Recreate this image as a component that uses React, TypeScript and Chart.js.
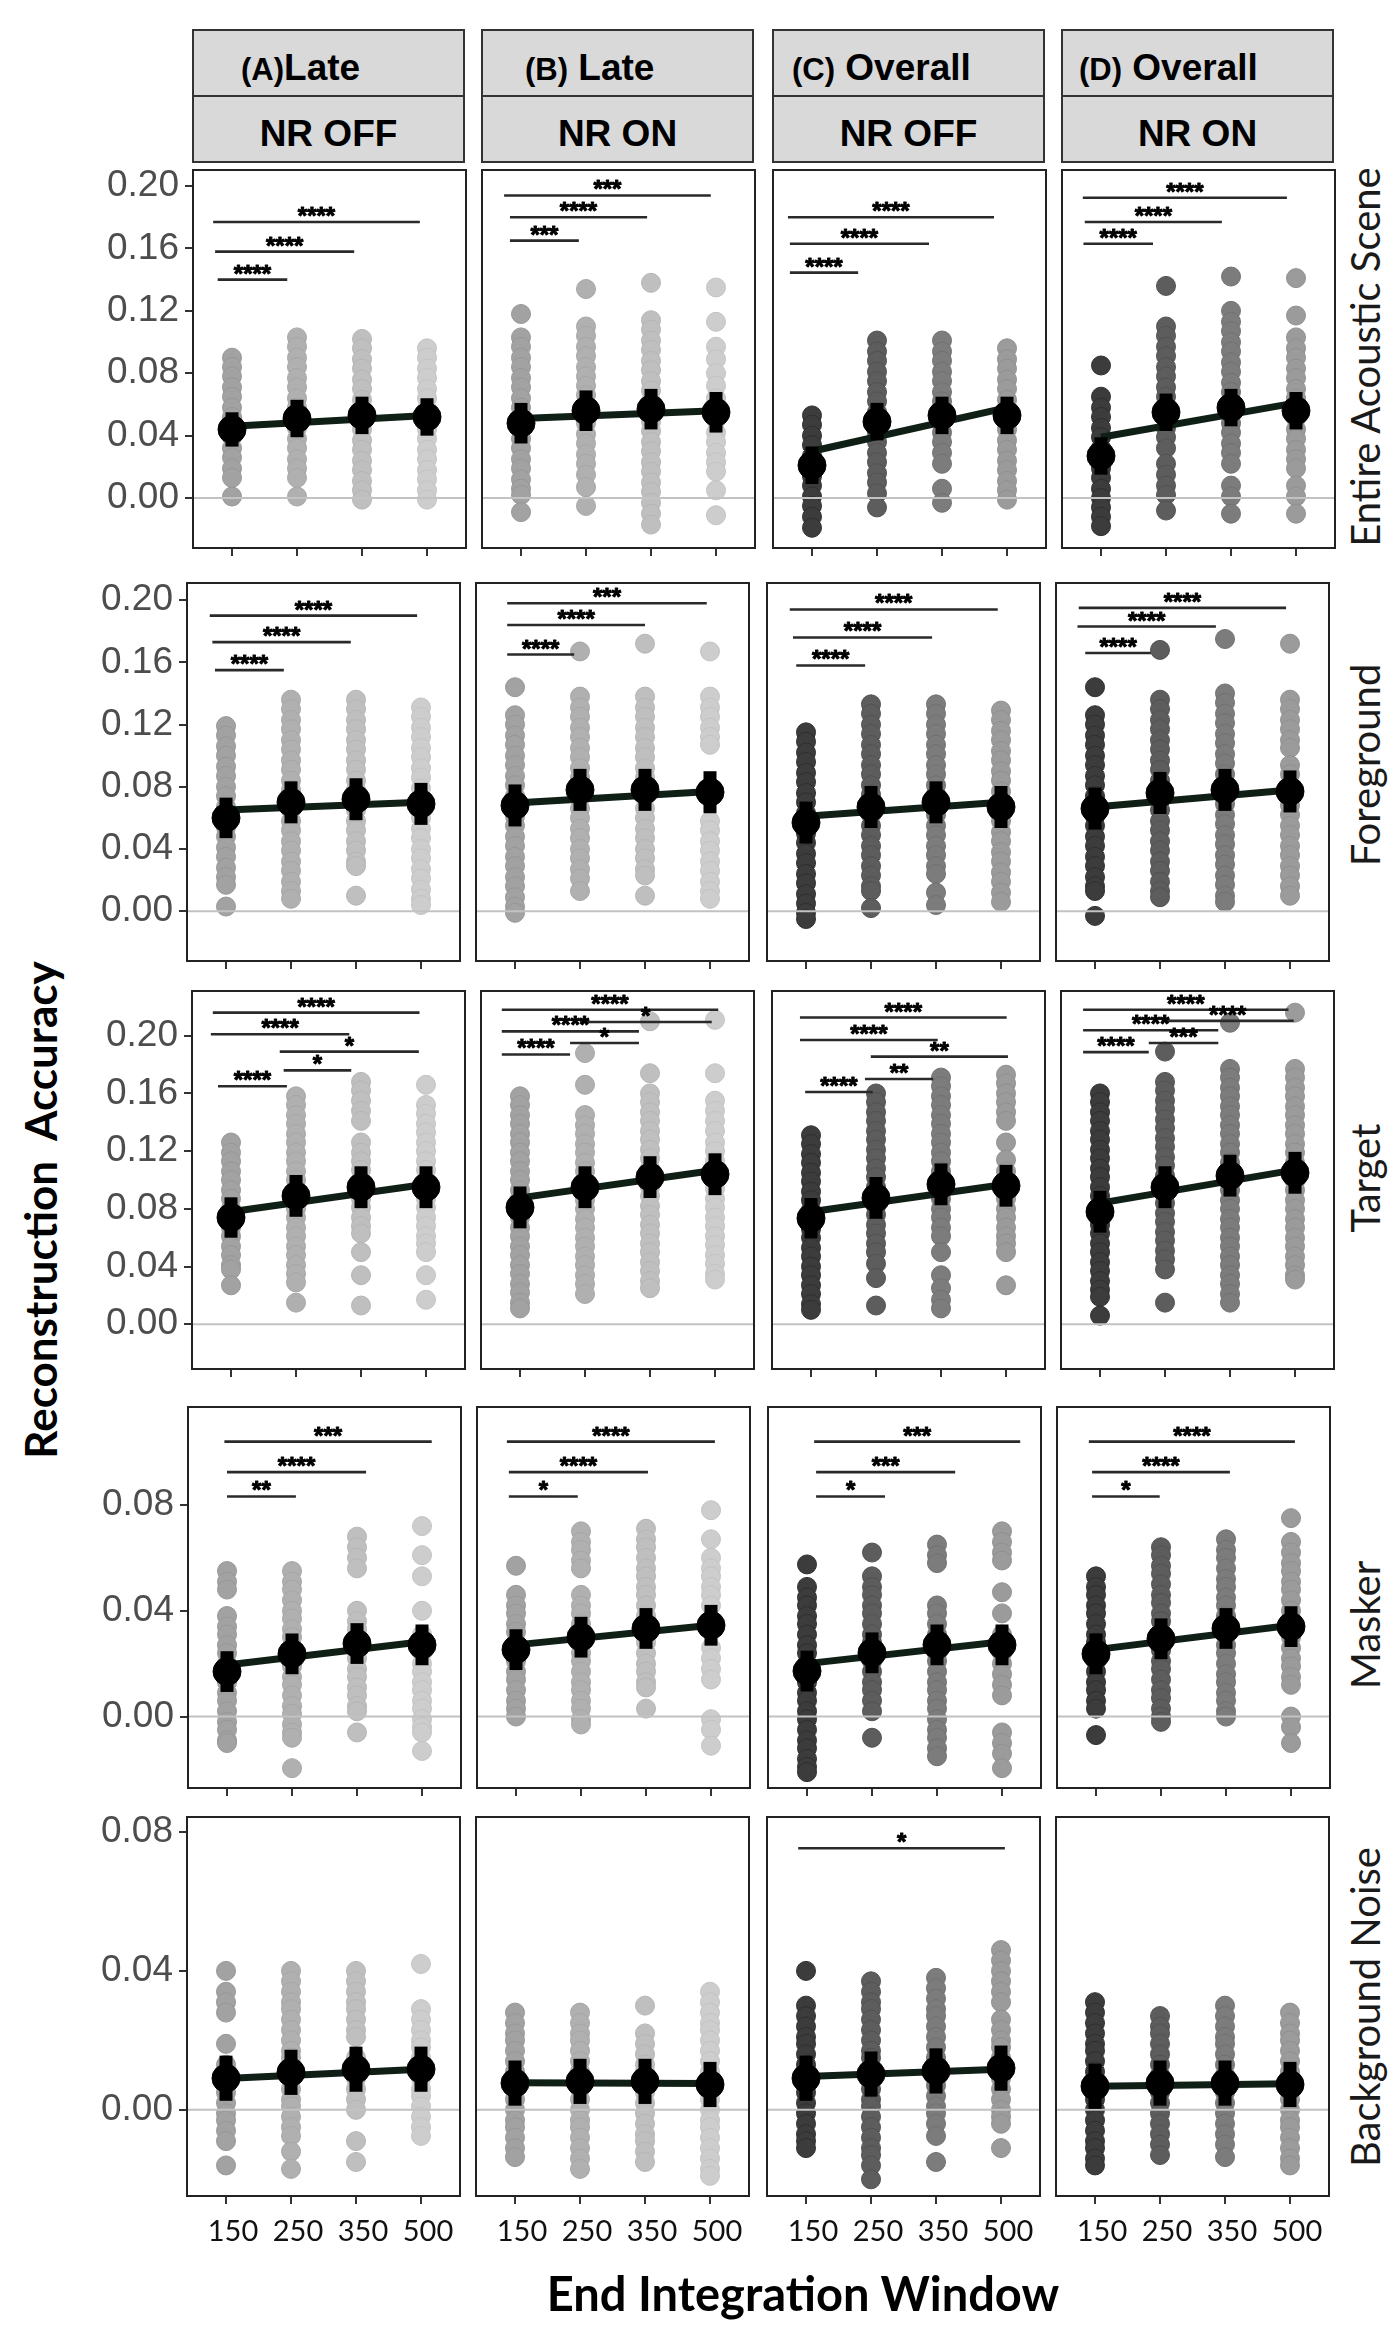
import React, { useEffect, useRef } from "react";
import { Chart, registerables } from "chart.js";
Chart.register(...registerables);

// ---------------- labels ----------------
const categories = ["150", "250", "350", "500"];
const rowNames = ["Entire Acoustic Scene", "Foreground", "Target", "Masker", "Background Noise"];
const colTopTag = ["(A)", "(B)", "(C)", "(D)"];
const colTopWord = ["Late", "Late", "Overall", "Overall"];
const colBottom = ["NR OFF", "NR ON", "NR OFF", "NR ON"];
const yTitle = "Reconstruction  Accuracy";
const xTitle = "End Integration Window";

const yTicksTall = [0, 0.04, 0.08, 0.12, 0.16, 0.2];
const yTicksShort = [0, 0.04, 0.08];
const rowYMin = [-0.032, -0.032, -0.031, -0.027, -0.0248];
const rowYMax = [0.2103, 0.211, 0.231, 0.117, 0.0843];

// ---------------- Entire Acoustic Scene ----------------
const sceneLateOff = [
  [0.090, 0.084, 0.078, 0.071, 0.065, 0.058, 0.052, 0.045, 0.039, 0.032, 0.026, 0.019, 0.013, 0.001],
  [0.103, 0.097, 0.090, 0.084, 0.077, 0.071, 0.064, 0.058, 0.051, 0.045, 0.038, 0.032, 0.025, 0.019, 0.013, 0.001],
  [0.102, 0.096, 0.089, 0.083, 0.076, 0.070, 0.063, 0.057, 0.050, 0.044, 0.037, 0.031, 0.024, 0.018, 0.011, 0.005, -0.001],
  [0.096, 0.090, 0.083, 0.077, 0.070, 0.064, 0.057, 0.051, 0.044, 0.038, 0.031, 0.025, 0.018, 0.012, 0.005, -0.001],
];
const sceneLateOn = [
  [0.118, 0.103, 0.097, 0.090, 0.084, 0.077, 0.071, 0.064, 0.058, 0.051, 0.045, 0.038, 0.032, 0.025, 0.019, 0.012, 0.006, 0.002, -0.009],
  [0.134, 0.110, 0.104, 0.097, 0.091, 0.084, 0.078, 0.072, 0.066, 0.060, 0.054, 0.048, 0.041, 0.035, 0.028, 0.022, 0.015, 0.007, -0.005],
  [0.138, 0.114, 0.108, 0.101, 0.095, 0.088, 0.082, 0.075, 0.069, 0.062, 0.056, 0.049, 0.043, 0.036, 0.030, 0.023, 0.017, 0.010, 0.004, -0.003, -0.010, -0.017],
  [0.135, 0.113, 0.097, 0.089, 0.080, 0.072, 0.064, 0.057, 0.050, 0.042, 0.036, 0.029, 0.023, 0.017, 0.005, -0.011],
];
const sceneOverOff = [
  [0.053, 0.047, 0.040, 0.034, 0.027, 0.021, 0.014, 0.008, 0.001, -0.005, -0.012, -0.019],
  [0.101, 0.094, 0.088, 0.081, 0.075, 0.068, 0.062, 0.055, 0.049, 0.042, 0.036, 0.029, 0.023, 0.016, 0.010, 0.003, -0.006],
  [0.101, 0.094, 0.088, 0.081, 0.075, 0.068, 0.062, 0.055, 0.049, 0.042, 0.036, 0.029, 0.022, 0.006, -0.003],
  [0.096, 0.089, 0.083, 0.076, 0.070, 0.063, 0.057, 0.050, 0.044, 0.037, 0.031, 0.024, 0.018, 0.011, 0.005, -0.001],
];
const sceneOverOn = [
  [0.085, 0.065, 0.058, 0.052, 0.045, 0.039, 0.032, 0.026, 0.019, 0.013, 0.006, 0.000, -0.006, -0.012, -0.018],
  [0.136, 0.110, 0.104, 0.097, 0.091, 0.084, 0.078, 0.071, 0.065, 0.058, 0.052, 0.045, 0.039, 0.032, 0.022, 0.015, 0.008, 0.002, -0.008],
  [0.142, 0.120, 0.113, 0.107, 0.100, 0.094, 0.087, 0.081, 0.074, 0.068, 0.061, 0.055, 0.048, 0.042, 0.035, 0.029, 0.022, 0.008, 0.001, -0.010],
  [0.141, 0.117, 0.103, 0.096, 0.090, 0.083, 0.077, 0.070, 0.064, 0.057, 0.051, 0.044, 0.038, 0.031, 0.025, 0.019, 0.008, 0.001, -0.010],
];
const sceneMeans = [[0.044, 0.051, 0.053, 0.052], [0.048, 0.056, 0.057, 0.055], [0.021, 0.049, 0.053, 0.053], [0.027, 0.055, 0.058, 0.056]];
const sceneErr = [[0.011, 0.012, 0.012, 0.012], [0.013, 0.013, 0.013, 0.013], [0.012, 0.012, 0.012, 0.012], [0.012, 0.012, 0.012, 0.012]];
const sceneFit = [[0.046, 0.053], [0.051, 0.056], [0.030, 0.058], [0.039, 0.061]];
const sceneSig = [
  [[-0.22, 0.85, 0.140, "****"], [-0.26, 1.88, 0.158, "****"], [-0.29, 2.89, 0.177, "****"]],
  [[-0.17, 0.89, 0.165, "***"], [-0.17, 1.94, 0.180, "****"], [-0.26, 2.92, 0.194, "***"]],
  [[-0.34, 0.71, 0.1445, "****"], [-0.34, 1.80, 0.163, "****"], [-0.37, 2.80, 0.180, "****"]],
  [[-0.27, 0.80, 0.163, "****"], [-0.25, 1.86, 0.177, "****"], [-0.28, 2.86, 0.1925, "****"]],
];

// ---------------- Foreground ----------------
const fgLateOff = [
  [0.119, 0.113, 0.106, 0.100, 0.093, 0.087, 0.080, 0.074, 0.067, 0.061, 0.054, 0.048, 0.041, 0.035, 0.028, 0.022, 0.017, 0.003],
  [0.136, 0.130, 0.123, 0.117, 0.110, 0.104, 0.097, 0.091, 0.084, 0.078, 0.071, 0.065, 0.058, 0.052, 0.045, 0.039, 0.032, 0.026, 0.019, 0.013, 0.008],
  [0.136, 0.130, 0.123, 0.117, 0.110, 0.104, 0.097, 0.091, 0.084, 0.078, 0.071, 0.065, 0.058, 0.052, 0.045, 0.039, 0.032, 0.029, 0.010],
  [0.131, 0.125, 0.118, 0.112, 0.105, 0.099, 0.092, 0.086, 0.079, 0.073, 0.066, 0.060, 0.053, 0.047, 0.040, 0.034, 0.027, 0.021, 0.014, 0.008, 0.004],
];
const fgLateOn = [
  [0.144, 0.126, 0.120, 0.113, 0.107, 0.100, 0.094, 0.087, 0.081, 0.074, 0.068, 0.061, 0.055, 0.048, 0.042, 0.035, 0.029, 0.022, 0.016, 0.009, 0.003, -0.001],
  [0.167, 0.138, 0.131, 0.125, 0.118, 0.112, 0.105, 0.099, 0.092, 0.086, 0.079, 0.073, 0.066, 0.060, 0.053, 0.047, 0.040, 0.034, 0.027, 0.021, 0.013],
  [0.172, 0.138, 0.131, 0.125, 0.118, 0.112, 0.105, 0.099, 0.092, 0.086, 0.079, 0.073, 0.066, 0.060, 0.053, 0.047, 0.040, 0.034, 0.027, 0.023, 0.010],
  [0.167, 0.138, 0.131, 0.125, 0.118, 0.112, 0.107, 0.058, 0.052, 0.045, 0.039, 0.032, 0.026, 0.019, 0.013, 0.008],
];
const fgOverOff = [
  [0.115, 0.109, 0.102, 0.096, 0.089, 0.083, 0.076, 0.070, 0.063, 0.057, 0.050, 0.044, 0.037, 0.031, 0.024, 0.018, 0.011, 0.005, -0.001, -0.005],
  [0.133, 0.127, 0.120, 0.114, 0.107, 0.101, 0.094, 0.088, 0.081, 0.075, 0.068, 0.062, 0.055, 0.049, 0.042, 0.036, 0.029, 0.023, 0.016, 0.013, 0.002],
  [0.133, 0.127, 0.120, 0.114, 0.107, 0.101, 0.094, 0.088, 0.081, 0.075, 0.068, 0.062, 0.055, 0.049, 0.042, 0.036, 0.029, 0.024, 0.012, 0.004],
  [0.129, 0.123, 0.116, 0.110, 0.103, 0.097, 0.090, 0.084, 0.077, 0.071, 0.064, 0.058, 0.051, 0.045, 0.038, 0.032, 0.025, 0.019, 0.012, 0.006],
];
const fgOverOn = [
  [0.144, 0.126, 0.120, 0.113, 0.107, 0.100, 0.094, 0.087, 0.081, 0.074, 0.068, 0.061, 0.055, 0.048, 0.042, 0.035, 0.029, 0.022, 0.016, 0.013, -0.003],
  [0.168, 0.136, 0.130, 0.123, 0.117, 0.110, 0.104, 0.097, 0.091, 0.084, 0.078, 0.071, 0.065, 0.058, 0.052, 0.045, 0.039, 0.032, 0.026, 0.019, 0.013, 0.009],
  [0.175, 0.140, 0.134, 0.127, 0.121, 0.114, 0.108, 0.101, 0.095, 0.088, 0.082, 0.075, 0.069, 0.062, 0.056, 0.049, 0.043, 0.036, 0.030, 0.023, 0.017, 0.010, 0.006],
  [0.172, 0.136, 0.130, 0.123, 0.117, 0.110, 0.105, 0.094, 0.088, 0.081, 0.075, 0.068, 0.062, 0.055, 0.049, 0.042, 0.036, 0.029, 0.023, 0.016, 0.010],
];
const fgMeans = [[0.060, 0.070, 0.072, 0.069], [0.068, 0.078, 0.078, 0.0765], [0.057, 0.067, 0.070, 0.067], [0.066, 0.076, 0.078, 0.077]];
const fgErr = [[0.013, 0.0135, 0.0135, 0.0135], [0.0135, 0.0135, 0.0135, 0.0135], [0.0135, 0.0135, 0.0135, 0.0135], [0.0135, 0.0135, 0.0135, 0.0135]];
const fgFit = [[0.065, 0.070], [0.0695, 0.077], [0.061, 0.070], [0.067, 0.078]];
const fgSig = [
  [[-0.17, 0.89, 0.155, "****"], [-0.21, 1.92, 0.173, "****"], [-0.25, 2.94, 0.190, "****"]],
  [[-0.12, 0.91, 0.165, "****"], [-0.12, 2.0, 0.184, "****"], [-0.12, 2.95, 0.198, "***"]],
  [[-0.15, 0.91, 0.158, "****"], [-0.2, 1.94, 0.176, "****"], [-0.25, 2.95, 0.194, "****"]],
  [[-0.15, 0.86, 0.166, "****"], [-0.27, 1.86, 0.183, "****"], [-0.25, 2.94, 0.195, "****"]],
];

// ---------------- Target ----------------
const targetLateOff = [
  [0.126, 0.119, 0.113, 0.106, 0.100, 0.093, 0.087, 0.080, 0.074, 0.067, 0.061, 0.054, 0.048, 0.041, 0.038, 0.027],
  [0.158, 0.152, 0.145, 0.139, 0.132, 0.126, 0.119, 0.113, 0.106, 0.100, 0.093, 0.087, 0.080, 0.074, 0.067, 0.061, 0.054, 0.048, 0.041, 0.035, 0.029, 0.015],
  [0.168, 0.162, 0.155, 0.148, 0.141, 0.126, 0.119, 0.113, 0.107, 0.100, 0.094, 0.087, 0.081, 0.074, 0.068, 0.063, 0.050, 0.034, 0.013],
  [0.166, 0.152, 0.146, 0.139, 0.133, 0.126, 0.120, 0.113, 0.107, 0.100, 0.094, 0.087, 0.081, 0.074, 0.068, 0.061, 0.056, 0.050, 0.034, 0.017],
];
const targetLateOn = [
  [0.158, 0.152, 0.145, 0.139, 0.132, 0.126, 0.119, 0.113, 0.106, 0.100, 0.093, 0.087, 0.080, 0.074, 0.067, 0.061, 0.054, 0.048, 0.041, 0.035, 0.028, 0.022, 0.015, 0.011],
  [0.188, 0.166, 0.145, 0.138, 0.132, 0.125, 0.119, 0.112, 0.106, 0.099, 0.093, 0.086, 0.080, 0.073, 0.067, 0.060, 0.054, 0.047, 0.041, 0.034, 0.028, 0.021],
  [0.210, 0.174, 0.160, 0.154, 0.147, 0.141, 0.134, 0.128, 0.121, 0.115, 0.108, 0.102, 0.095, 0.089, 0.082, 0.076, 0.069, 0.063, 0.056, 0.050, 0.043, 0.037, 0.030, 0.025],
  [0.211, 0.174, 0.155, 0.148, 0.141, 0.134, 0.126, 0.120, 0.113, 0.107, 0.100, 0.094, 0.087, 0.081, 0.074, 0.068, 0.061, 0.055, 0.048, 0.042, 0.035, 0.031],
];
const targetOverOff = [
  [0.131, 0.125, 0.118, 0.112, 0.105, 0.099, 0.092, 0.086, 0.079, 0.073, 0.066, 0.060, 0.053, 0.047, 0.040, 0.034, 0.027, 0.021, 0.014, 0.010],
  [0.160, 0.154, 0.147, 0.141, 0.134, 0.128, 0.121, 0.115, 0.108, 0.102, 0.095, 0.089, 0.082, 0.076, 0.069, 0.063, 0.056, 0.050, 0.042, 0.032, 0.013],
  [0.171, 0.165, 0.158, 0.152, 0.145, 0.139, 0.132, 0.126, 0.119, 0.113, 0.106, 0.100, 0.093, 0.087, 0.080, 0.074, 0.067, 0.061, 0.050, 0.034, 0.025, 0.017, 0.011],
  [0.173, 0.167, 0.160, 0.154, 0.147, 0.141, 0.126, 0.114, 0.106, 0.100, 0.093, 0.087, 0.080, 0.074, 0.067, 0.061, 0.056, 0.050, 0.027],
];
const targetOverOn = [
  [0.160, 0.154, 0.147, 0.141, 0.134, 0.128, 0.121, 0.115, 0.108, 0.102, 0.095, 0.089, 0.082, 0.076, 0.069, 0.063, 0.056, 0.050, 0.043, 0.037, 0.030, 0.024, 0.019, 0.006],
  [0.189, 0.168, 0.162, 0.155, 0.149, 0.142, 0.136, 0.129, 0.123, 0.116, 0.110, 0.103, 0.097, 0.090, 0.084, 0.077, 0.071, 0.064, 0.058, 0.051, 0.045, 0.038, 0.015],
  [0.209, 0.177, 0.171, 0.164, 0.158, 0.151, 0.145, 0.138, 0.132, 0.125, 0.119, 0.112, 0.106, 0.099, 0.093, 0.086, 0.080, 0.073, 0.067, 0.060, 0.054, 0.047, 0.041, 0.034, 0.028, 0.021, 0.015],
  [0.216, 0.177, 0.171, 0.164, 0.158, 0.151, 0.145, 0.138, 0.132, 0.125, 0.119, 0.112, 0.106, 0.099, 0.093, 0.086, 0.080, 0.073, 0.067, 0.060, 0.054, 0.047, 0.041, 0.034, 0.031],
];
const targetMeans = [[0.074, 0.089, 0.095, 0.095], [0.081, 0.095, 0.102, 0.104], [0.0735, 0.0876, 0.097, 0.096], [0.078, 0.095, 0.103, 0.105]];
const targetErr = [[0.014, 0.0145, 0.0145, 0.0145], [0.0145, 0.0145, 0.0145, 0.0145], [0.014, 0.0145, 0.0145, 0.0145], [0.0145, 0.0145, 0.0145, 0.0145]];
const targetFit = [[0.078, 0.097], [0.0876, 0.1067], [0.078, 0.097], [0.084, 0.107]];
const targetSig = [
  [[-0.2, 0.86, 0.165, "****"], [0.81, 1.85, 0.176, "*"], [0.75, 2.89, 0.189, "*"], [-0.31, 1.82, 0.201, "****"], [-0.28, 2.9, 0.216, "****"]],
  [[-0.28, 0.77, 0.187, "****"], [0.77, 1.83, 0.195, "*"], [-0.28, 1.83, 0.203, "****"], [0.92, 2.95, 0.2095, "*"], [-0.28, 3.05, 0.218, "****"]],
  [[-0.09, 0.95, 0.161, "****"], [0.83, 1.88, 0.170, "**"], [0.92, 3.03, 0.1855, "**"], [-0.17, 1.95, 0.197, "****"], [-0.17, 3.01, 0.2126, "****"]],
  [[-0.26, 0.75, 0.1886, "****"], [0.75, 1.82, 0.195, "***"], [-0.26, 1.82, 0.2038, "****"], [0.95, 2.98, 0.2103, "****"], [-0.26, 2.9, 0.218, "****"]],
];

// ---------------- Masker ----------------
const maskerLateOff = [
  [0.055, 0.051, 0.048, 0.038, 0.034, 0.031, 0.027, 0.024, 0.020, 0.016, 0.013, 0.009, 0.006, 0.002, -0.002, -0.005, -0.009, -0.010],
  [0.055, 0.051, 0.048, 0.044, 0.040, 0.037, 0.033, 0.030, 0.026, 0.022, 0.019, 0.015, 0.012, 0.008, 0.004, 0.001, -0.003, -0.006, -0.008, -0.0195],
  [0.068, 0.064, 0.060, 0.056, 0.040, 0.036, 0.033, 0.029, 0.026, 0.022, 0.018, 0.015, 0.011, 0.008, 0.004, 0.002, -0.006],
  [0.072, 0.061, 0.053, 0.040, 0.031, 0.028, 0.024, 0.020, 0.017, 0.013, 0.010, 0.006, 0.003, -0.001, -0.004, -0.006, -0.013],
];
const maskerLateOn = [
  [0.057, 0.046, 0.042, 0.039, 0.035, 0.032, 0.028, 0.024, 0.021, 0.017, 0.014, 0.010, 0.006, 0.003, 0.000],
  [0.070, 0.066, 0.063, 0.059, 0.056, 0.046, 0.042, 0.039, 0.035, 0.031, 0.028, 0.024, 0.021, 0.017, 0.013, 0.010, 0.006, 0.003, -0.001, -0.003],
  [0.071, 0.067, 0.064, 0.060, 0.056, 0.053, 0.049, 0.046, 0.042, 0.038, 0.035, 0.031, 0.028, 0.024, 0.020, 0.017, 0.013, 0.011, 0.003],
  [0.078, 0.067, 0.060, 0.056, 0.053, 0.049, 0.046, 0.042, 0.026, 0.022, 0.018, 0.014, -0.001, -0.005, -0.011],
];
const maskerOverOff = [
  [0.0575, 0.049, 0.045, 0.042, 0.038, 0.035, 0.031, 0.027, 0.024, 0.020, 0.017, 0.013, 0.009, 0.006, 0.002, -0.001, -0.005, -0.009, -0.012, -0.016, -0.019, -0.021],
  [0.062, 0.053, 0.049, 0.046, 0.042, 0.039, 0.035, 0.031, 0.028, 0.024, 0.021, 0.017, 0.013, 0.010, 0.006, 0.002, -0.008],
  [0.065, 0.061, 0.058, 0.042, 0.039, 0.035, 0.031, 0.028, 0.024, 0.021, 0.017, 0.013, 0.010, 0.006, 0.003, -0.001, -0.005, -0.008, -0.012, -0.015],
  [0.070, 0.066, 0.062, 0.059, 0.047, 0.039, 0.031, 0.027, 0.024, 0.020, 0.016, 0.012, 0.008, -0.006, -0.010, -0.014, -0.0195],
];
const maskerOverOn = [
  [0.053, 0.049, 0.046, 0.042, 0.039, 0.035, 0.031, 0.028, 0.024, 0.021, 0.017, 0.013, 0.010, 0.006, 0.003, -0.007],
  [0.064, 0.061, 0.057, 0.054, 0.050, 0.046, 0.043, 0.039, 0.036, 0.032, 0.028, 0.025, 0.021, 0.018, 0.014, 0.010, 0.007, 0.003, 0.000, -0.002],
  [0.067, 0.063, 0.060, 0.056, 0.052, 0.049, 0.045, 0.042, 0.038, 0.034, 0.031, 0.027, 0.024, 0.020, 0.016, 0.013, 0.009, 0.006, 0.002, 0.000],
  [0.075, 0.066, 0.062, 0.058, 0.055, 0.051, 0.048, 0.044, 0.040, 0.037, 0.033, 0.030, 0.026, 0.022, 0.019, 0.015, 0.012, 0.000, -0.004, -0.010],
];
const maskerMeans = [[0.017, 0.0237, 0.0276, 0.0271], [0.0253, 0.030, 0.0333, 0.0345], [0.0172, 0.0241, 0.0271, 0.0271], [0.0237, 0.0294, 0.0333, 0.034]];
const maskerErr = [[0.0077, 0.0077, 0.0077, 0.0077], [0.0077, 0.0077, 0.0077, 0.0077], [0.0077, 0.0077, 0.0077, 0.0077], [0.0077, 0.0077, 0.0077, 0.0077]];
const maskerFit = [[0.0195, 0.0283], [0.0271, 0.0345], [0.020, 0.0283], [0.0253, 0.0345]];
const maskerSig = [
  [[0.0, 1.06, 0.0832, "**"], [0.0, 2.14, 0.0924, "****"], [-0.04, 3.15, 0.1039, "***"]],
  [[-0.11, 0.95, 0.0832, "*"], [-0.11, 2.03, 0.0924, "****"], [-0.14, 3.06, 0.1039, "****"]],
  [[0.14, 1.2, 0.0832, "*"], [0.14, 2.28, 0.0924, "***"], [0.11, 3.28, 0.1039, "***"]],
  [[-0.06, 0.98, 0.0832, "*"], [-0.06, 2.06, 0.0924, "****"], [-0.11, 3.06, 0.1039, "****"]],
];

// ---------------- Background Noise ----------------
const noiseLateOff = [
  [0.040, 0.034, 0.031, 0.028, 0.019, 0.013, 0.011, 0.008, 0.005, 0.002, -0.001, -0.003, -0.006, -0.009, -0.016],
  [0.040, 0.037, 0.034, 0.031, 0.029, 0.026, 0.023, 0.020, 0.017, 0.015, 0.012, 0.009, 0.006, 0.003, 0.001, -0.002, -0.005, -0.0075, -0.012, -0.017],
  [0.040, 0.037, 0.034, 0.031, 0.029, 0.026, 0.023, 0.021, 0.015, 0.012, 0.009, 0.006, 0.003, 0.000, -0.009, -0.015],
  [0.042, 0.029, 0.026, 0.023, 0.020, 0.018, 0.015, 0.012, 0.009, 0.006, 0.004, 0.001, -0.002, -0.005, -0.0075],
];
const noiseLateOn = [
  [0.028, 0.025, 0.022, 0.020, 0.017, 0.014, 0.011, 0.008, 0.006, 0.003, 0.000, -0.003, -0.005, -0.008, -0.011, -0.0136],
  [0.028, 0.025, 0.022, 0.020, 0.017, 0.014, 0.011, 0.008, 0.006, 0.003, 0.000, -0.003, -0.005, -0.008, -0.011, -0.014, -0.017],
  [0.030, 0.022, 0.019, 0.016, 0.013, 0.011, 0.008, 0.005, 0.002, -0.001, -0.004, -0.007, -0.009, -0.012, -0.015],
  [0.034, 0.031, 0.028, 0.025, 0.023, 0.020, 0.017, 0.014, 0.011, 0.009, 0.006, 0.003, 0.000, -0.003, -0.005, -0.008, -0.011, -0.014, -0.017, -0.019],
];
const noiseOverOff = [
  [0.040, 0.030, 0.027, 0.024, 0.021, 0.019, 0.016, 0.013, 0.010, 0.007, 0.005, 0.002, -0.001, -0.004, -0.007, -0.009, -0.011],
  [0.037, 0.034, 0.031, 0.029, 0.026, 0.023, 0.020, 0.017, 0.015, 0.012, 0.009, 0.006, 0.003, 0.001, -0.002, -0.005, -0.008, -0.011, -0.013, -0.016, -0.020],
  [0.038, 0.035, 0.032, 0.029, 0.027, 0.024, 0.021, 0.018, 0.015, 0.013, 0.010, 0.007, 0.004, 0.001, -0.001, -0.004, -0.0075, -0.015],
  [0.046, 0.043, 0.040, 0.037, 0.034, 0.031, 0.026, 0.023, 0.020, 0.018, 0.015, 0.012, 0.009, 0.006, 0.003, 0.000, -0.002, -0.004, -0.011],
];
const noiseOverOn = [
  [0.031, 0.028, 0.025, 0.022, 0.019, 0.017, 0.014, 0.011, 0.008, 0.005, 0.003, 0.000, -0.003, -0.006, -0.009, -0.011, -0.014, -0.016],
  [0.027, 0.024, 0.022, 0.019, 0.016, 0.013, 0.010, 0.008, 0.005, 0.002, -0.001, -0.004, -0.007, -0.010, -0.013],
  [0.030, 0.027, 0.024, 0.021, 0.019, 0.016, 0.013, 0.010, 0.007, 0.005, 0.002, -0.001, -0.004, -0.007, -0.010, -0.0136],
  [0.028, 0.025, 0.022, 0.020, 0.017, 0.014, 0.011, 0.008, 0.006, 0.003, 0.000, -0.003, -0.005, -0.008, -0.011, -0.014, -0.016],
];
const noiseMeans = [[0.0091, 0.0108, 0.0117, 0.0117], [0.0077, 0.0082, 0.0082, 0.0073], [0.0091, 0.0103, 0.0112, 0.012], [0.0068, 0.0077, 0.0077, 0.0073]];
const noiseErr = [[0.0065, 0.0065, 0.0065, 0.0065], [0.0065, 0.0065, 0.0065, 0.0065], [0.0065, 0.0065, 0.0065, 0.0065], [0.0065, 0.0065, 0.0065, 0.0065]];
const noiseFit = [[0.009, 0.0117], [0.0078, 0.0076], [0.0096, 0.0117], [0.0068, 0.0075]];
const noiseSig = [[], [], [[-0.12, 3.06, 0.0753, "*"]], []];

// ---------------- assembled tables ----------------
const DOTS = [
  [sceneLateOff, sceneLateOn, sceneOverOff, sceneOverOn],
  [fgLateOff, fgLateOn, fgOverOff, fgOverOn],
  [targetLateOff, targetLateOn, targetOverOff, targetOverOn],
  [maskerLateOff, maskerLateOn, maskerOverOff, maskerOverOn],
  [noiseLateOff, noiseLateOn, noiseOverOff, noiseOverOn],
];
const MEANS = [sceneMeans, fgMeans, targetMeans, maskerMeans, noiseMeans];
const ERRS = [sceneErr, fgErr, targetErr, maskerErr, noiseErr];
const FITS = [sceneFit, fgFit, targetFit, maskerFit, noiseFit];
const SIGS = [sceneSig, fgSig, targetSig, maskerSig, noiseSig];

// ---------------- styling / layout ----------------
const lightFill = ["#a2a2a2", "#b0b0b0", "#bfbfbf", "#cdcdcd"];
const lightRim = ["#979797", "#a6a6a6", "#b5b5b5", "#c3c3c3"];
const darkFill = ["#3c3c3c", "#5d5d5d", "#7c7c7c", "#9b9b9b"];
const darkRim = ["#2f2f2f", "#525252", "#717171", "#909090"];

const rowTop = [170, 583, 991, 1407, 1817];
const rowH = [378, 378, 378, 381, 379];
const rowLeft = [193, 187, 192, 188, 187];
const colStep = [0, 289, 580, 869];
const panelW = 273;
const rowLabelCY = [357, 765, 1178, 1625, 2007];
const stripTextLeft = [241, 525, 792, 1079];

const zeroPadding = (ax: any) => {
  ax.paddingTop = 0;
  ax.paddingBottom = 0;
  ax.paddingLeft = 0;
  ax.paddingRight = 0;
};

function buildConfig(r: number, c: number) {
  const isLeft = c === 0;
  const isBottom = r === 4;
  const dots = DOTS[r][c];
  const means = MEANS[r][c];
  const errs = ERRS[r][c];
  const fit = FITS[r][c];
  const sig = SIGS[r][c] as any[];
  const fill = c < 2 ? lightFill : darkFill;
  const rim = c < 2 ? lightRim : darkRim;
  const datasets: any[] = [];
  dots.forEach((vals: number[], i: number) => {
    datasets.push({
      data: vals.map((v) => ({ x: i, y: v })),
      backgroundColor: fill[i],
      borderColor: rim[i],
      borderWidth: 1,
      pointRadius: 9.5,
      pointHoverRadius: 9.5,
      showLine: false,
      order: 6,
    });
  });
  const seg = (pts: any[], color: string, width: number, order: number) => ({
    data: pts,
    showLine: true,
    borderColor: color,
    backgroundColor: color,
    borderWidth: width,
    borderCapStyle: "butt",
    pointRadius: 0,
    pointHoverRadius: 0,
    order,
  });
  datasets.push(seg([{ x: -0.6, y: 0 }, { x: 3.6, y: 0 }], "#c2c2c2", 2, 5));
  datasets.push(seg([{ x: 0, y: fit[0] }, { x: 3, y: fit[1] }], "#0f1f16", 7, 4));
  means.forEach((m: number, i: number) => {
    const e = errs[i];
    datasets.push(seg([{ x: i, y: m - e }, { x: i, y: m + e }], "#000", 13, 3));
  });
  datasets.push({
    data: means.map((m: number, i: number) => ({ x: i, y: m })),
    backgroundColor: "#000",
    borderColor: "#000",
    borderWidth: 1,
    pointRadius: 14,
    pointHoverRadius: 14,
    showLine: false,
    order: 2,
  });
  sig.forEach((b) => {
    datasets.push(seg([{ x: b[0], y: b[2] }, { x: b[1], y: b[2] }], "#2a2a2a", 2.6, 1));
  });

  const overlay = {
    id: "overlay",
    afterDatasetsDraw(chart: any) {
      const { ctx, chartArea: a, scales } = chart;
      ctx.save();
      ctx.strokeStyle = "#222";
      ctx.lineWidth = 2;
      ctx.strokeRect(a.left, a.top, a.right - a.left, a.bottom - a.top);
      ctx.fillStyle = "#000";
      ctx.strokeStyle = "#000";
      ctx.lineWidth = 1;
      ctx.lineJoin = "round";
      ctx.font = 'bold 24px "Liberation Sans"';
      ctx.textAlign = "center";
      ctx.textBaseline = "alphabetic";
      sig.forEach((b) => {
        const px = scales.x.getPixelForValue((b[0] + b[1]) / 2);
        const py = scales.y.getPixelForValue(b[2]);
        ctx.strokeText(b[3], px, py + 2);
        ctx.fillText(b[3], px, py + 2);
      });
      ctx.restore();
    },
  };

  const yTickVals = r < 3 ? yTicksTall : yTicksShort;

  return {
    type: "scatter" as const,
    data: { datasets },
    plugins: [overlay],
    options: {
      animation: false,
      responsive: false,
      devicePixelRatio: 1,
      events: [],
      layout: { autoPadding: false, padding: { top: 2, right: 2, left: isLeft ? 0 : 2, bottom: 0 } },
      plugins: { legend: { display: false }, tooltip: { enabled: false } },
      scales: {
        x: {
          type: "linear",
          min: -0.6,
          max: 3.6,
          afterBuildTicks: (ax: any) => {
            ax.ticks = [0, 1, 2, 3].map((v) => ({ value: v }));
          },
          afterFit: (ax: any) => {
            ax.height = isBottom ? 70 : 10;
            zeroPadding(ax);
          },
          grid: { drawOnChartArea: false, drawTicks: true, tickLength: 8, color: "#333", lineWidth: 2 },
          border: { display: false },
          ticks: {
            display: isBottom,
            callback: (v: any) => categories[Math.round(v)],
            font: { family: "Lato", size: 29 },
            color: "#111",
            padding: 10,
            labelOffset: 7,
            maxRotation: 0,
            autoSkip: false,
          },
        },
        y: {
          type: "linear",
          display: isLeft,
          min: rowYMin[r],
          max: rowYMax[r],
          afterBuildTicks: (ax: any) => {
            ax.ticks = yTickVals.map((v) => ({ value: v }));
          },
          afterFit: (ax: any) => {
            if (isLeft) ax.width = 100;
            zeroPadding(ax);
          },
          grid: { drawOnChartArea: false, drawTicks: true, tickLength: 8, color: "#333", lineWidth: 2 },
          border: { display: false },
          ticks: {
            callback: (v: any) => Number(v).toFixed(2),
            font: { family: "Liberation Sans", size: 37 },
            color: "#4d4d4d",
            padding: 6,
          },
        },
      },
    },
  };
}

function Panel({ r, c }: { r: number; c: number }) {
  const ref = useRef<HTMLCanvasElement | null>(null);
  useEffect(() => {
    const chart = new Chart(ref.current as HTMLCanvasElement, buildConfig(r, c) as any);
    return () => chart.destroy();
  }, [r, c]);
  const isLeft = c === 0;
  const isBottom = r === 4;
  const leftExtra = isLeft ? 100 : 2;
  const w = leftExtra + panelW + 2;
  const h = 2 + rowH[r] + (isBottom ? 70 : 10);
  const left = rowLeft[r] + colStep[c] - leftExtra;
  const top = rowTop[r] - 2;
  return (
    <canvas
      ref={ref}
      width={w}
      height={h}
      style={{ position: "absolute", left, top, width: w, height: h }}
    />
  );
}

export default function App() {
  const panels: any[] = [];
  for (let r = 0; r < 5; r++) for (let c = 0; c < 4; c++) panels.push(<Panel key={r + "-" + c} r={r} c={c} />);
  const stripBase: React.CSSProperties = {
    position: "absolute",
    width: panelW,
    height: 68,
    background: "#d9d9d9",
    border: "2px solid #333",
    boxSizing: "border-box",
  };
  return (
    <div style={{ position: "absolute", left: 0, top: 0, width: 1400, height: 2328, background: "#fff", overflow: "hidden" }}>
      {colBottom.map((t, c) => (
        <React.Fragment key={"s" + c}>
          <div style={{ ...stripBase, left: rowLeft[0] + colStep[c] - 1, top: 29 }} />
          <div style={{ ...stripBase, left: rowLeft[0] + colStep[c] - 1, top: 95 }} />
          <div
            style={{
              position: "absolute",
              left: stripTextLeft[c],
              top: 49,
              fontFamily: '"Liberation Sans", Arial, sans-serif',
              fontWeight: 700,
              fontSize: 37,
              lineHeight: 1,
              color: "#000",
              whiteSpace: "pre",
            }}
          >
            <span style={{ fontSize: 31 }}>{colTopTag[c]}</span>
            {c === 0 ? "" : " "}
            {colTopWord[c]}
          </div>
          <div
            style={{
              position: "absolute",
              left: rowLeft[0] + colStep[c] - 1,
              width: panelW,
              top: 115,
              textAlign: "center",
              fontFamily: '"Liberation Sans", Arial, sans-serif',
              fontWeight: 700,
              fontSize: 37,
              lineHeight: 1,
              color: "#000",
            }}
          >
            {t}
          </div>
        </React.Fragment>
      ))}
      {panels}
      {rowNames.map((n, r) => (
        <div
          key={"rl" + r}
          style={{
            position: "absolute",
            left: 1365,
            top: rowLabelCY[r],
            transform: "translate(-50%, -50%) rotate(-90deg)",
            fontFamily: "Lato, sans-serif",
            fontSize: 40,
            lineHeight: 1,
            color: "#1a1a1a",
            whiteSpace: "nowrap",
          }}
        >
          {n}
        </div>
      ))}
      <div
        style={{
          position: "absolute",
          left: 40,
          top: 1210,
          transform: "translate(-50%, -50%) rotate(-90deg)",
          fontFamily: "Lato, sans-serif",
          fontWeight: 700,
          fontSize: 44,
          lineHeight: 1,
          color: "#000",
          whiteSpace: "pre",
        }}
      >
        {yTitle}
      </div>
      <div
        style={{
          position: "absolute",
          left: 803,
          top: 2293,
          transform: "translate(-50%, -50%)",
          fontFamily: "Lato, sans-serif",
          fontWeight: 700,
          fontSize: 47,
          lineHeight: 1,
          color: "#000",
          whiteSpace: "pre",
        }}
      >
        {xTitle}
      </div>
    </div>
  );
}
